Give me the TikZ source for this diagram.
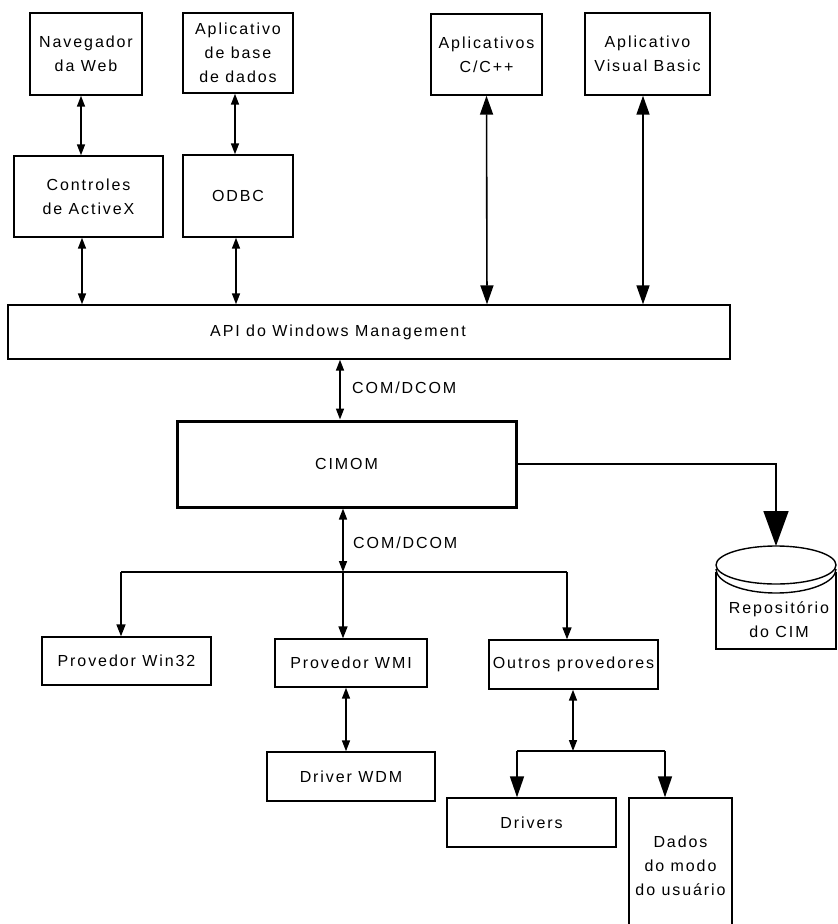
\documentclass[tikz,border=0pt]{standalone}
\usepackage{fontspec}
\setmainfont{Liberation Sans}[LetterSpace=12]
\usetikzlibrary{arrows.meta}
\begin{document}
\begin{tikzpicture}[x=1pt,y=-1pt,
  txt/.style={font=\fontsize{16}{24}\selectfont, inner sep=0pt, align=center},
  box/.style={txt, draw, line width=1.4pt},
  con/.style={line width=1.6pt},
  sdbl/.style={con, {Triangle[width=8pt,length=11pt]}-{Triangle[width=8pt,length=11pt]}},
  mdbl/.style={con, {Triangle[width=13pt,length=19pt]}-{Triangle[width=13pt,length=19pt]}},
  sone/.style={con, -{Triangle[width=9pt,length=12pt]}},
  mone/.style={con, -{Triangle[width=14pt,length=21pt]}},
  bigone/.style={con, -{Triangle[width=25pt,length=35pt]}}
]
\useasboundingbox (0,0) rectangle (838,924);

% top row
\node[box, minimum width=112pt, minimum height=82pt] (nav) at (86,54) {Navegador\\da Web};
\node[box, minimum width=110pt, minimum height=80pt] (appdb) at (238,53) {Aplicativo\\de base\\de dados};
\node[box, minimum width=111pt, minimum height=81pt] (cpp) at (486.5,54.5) {Aplicativos\\C/C++};
\node[box, minimum width=125pt, minimum height=82pt] (vb) at (647.5,54) {Aplicativo\\Visual Basic};

% second row
\node[box, minimum width=149pt, minimum height=81pt] (ctrl) at (88.5,196.5) {Controles\\de ActiveX};
\node[box, minimum width=110pt, minimum height=82pt] (odbc) at (238,196) {ODBC};

% API
\node[box, minimum width=722pt, minimum height=54pt] (api) at (369,332) {API do Windows Management\hspace*{62pt}};

% CIMOM
\node[box, line width=3pt, minimum width=339pt, minimum height=86pt] (cimom) at (346.5,464) {CIMOM};

% providers
\node[box, minimum width=169pt, minimum height=48pt] (win32) at (126.5,661) {Provedor Win32};
\node[box, minimum width=152pt, minimum height=48pt] (wmi) at (351,663) {Provedor WMI};
\node[box, minimum width=168pt, minimum height=49pt] (wdm) at (351,776.5) {Driver WDM};
\node[box, minimum width=169pt, minimum height=49pt] (outros) at (573.5,664.5) {Outros provedores};
\node[box, minimum width=169pt, minimum height=49pt] (drivers) at (531.5,822.5) {Drivers};
\node[box, minimum width=103pt, minimum height=136pt] (dados) at (680.5,866) {Dados\\do modo\\do usuário};

% repository (cylinder)
\draw[line width=1.4pt] (776,565) ellipse [x radius=60pt, y radius=19pt];
\draw[line width=1.4pt] (716,569) arc[start angle=180, end angle=360, x radius=60pt, y radius=24pt];
\draw[line width=1.4pt] (716,572) -- (716,649) -- (836,649) -- (836,572);
\node[txt] (repo) at (779,620) {Repositório\\do CIM};
\coordinate (repotop) at (776,546);

% labels
\node[txt, anchor=west] (lab1) at (352,388) {COM/DCOM};
\node[txt, anchor=west] (lab2) at (353,543) {COM/DCOM};

% connectors top
\draw[sdbl] ([xshift=-5pt]nav.south) -- ([xshift=-7.5pt]ctrl.north);
\draw[sdbl] ([xshift=-3pt]appdb.south) -- ([xshift=-3pt]odbc.north);
\draw[sdbl] ([xshift=-6.5pt]ctrl.south) -- (api.north -| 82,0);
\draw[sdbl] ([xshift=-2pt]odbc.south) -- (api.north -| 236,0);
\draw[mdbl] (cpp.south) -- (api.north -| 487,0);
\draw[mdbl] ([xshift=-4.5pt]vb.south) -- (api.north -| 643,0);

% API - CIMOM
\draw[sdbl] (api.south -| 340,0) -- (cimom.north -| 340,0);

% CIMOM - repository
\draw[bigone] (cimom.east) -| (repotop);

% CIMOM - branch
\coordinate (br) at (343,572);
\coordinate (brl) at (121,572);
\coordinate (brr) at (567,572);
\draw[sdbl] (cimom.south -| br) -- (br);
\draw[con] (brl) -- (brr);
\draw[sone] (brl) -- (win32.north -| brl);
\draw[sone] (br) -- (wmi.north -| br);
\draw[sone] (brr) -- (outros.north -| brr);

% WMI - WDM
\draw[sdbl] (wmi.south -| 346,0) -- (wdm.north -| 346,0);

% Outros - branch 2
\coordinate (bt) at (573,751);
\coordinate (btl) at (517,751);
\coordinate (btr) at (665,751);
\draw[sdbl] (outros.south -| bt) -- (bt);
\draw[con] (btl) -- (btr);
\draw[mone] (btl) -- (drivers.north -| btl);
\draw[mone] (btr) -- (dados.north -| btr);
\end{tikzpicture}
\end{document}
